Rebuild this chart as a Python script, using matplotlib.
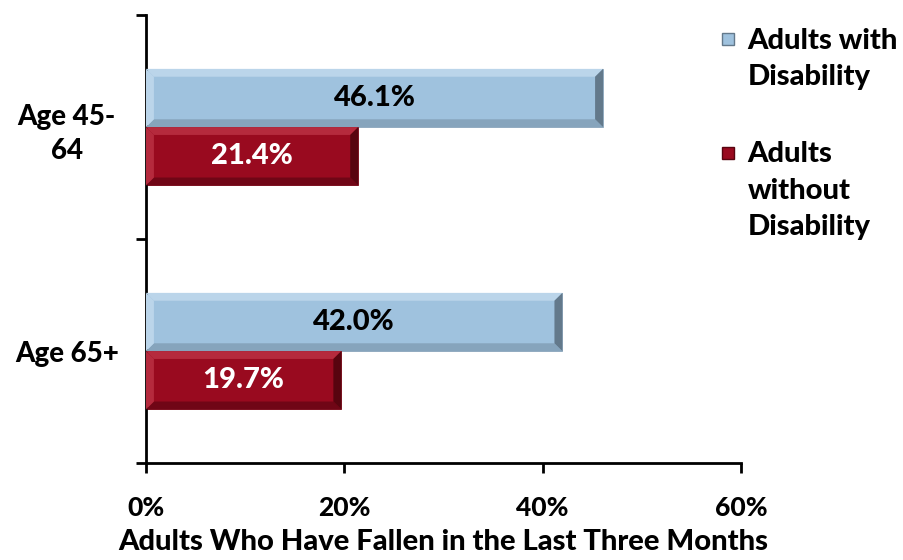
import numpy as np
import matplotlib.pyplot as plt
from matplotlib.patches import Polygon, Rectangle

plt.rcParams['font.family'] = ['Lato', 'DejaVu Sans']
plt.rcParams['font.weight'] = 'black'
plt.rcParams['axes.labelweight'] = 'black'

categories = ['Age 45-\n64', 'Age 65+']
with_disability = [46.1, 42.0]
without_disability = [21.4, 19.7]
series_names = ['Adults with\nDisability', 'Adults\nwithout\nDisability']
xticks = [0, 20, 40, 60]
xlabel = 'Adults Who Have Fallen in the Last Three Months'

blue = '#9FC2DE'
red = '#990A1F'


def bevel(ax, rect, light, dark, side):
    """fake the excel bevel look with 4 trapezoids"""
    x0, y0 = rect.get_x(), rect.get_y()
    x1, y1 = x0 + rect.get_width(), y0 + rect.get_height()
    bx, by = 0.8, 0.035
    top = [(x0, y0), (x1, y0), (x1 - bx, y0 + by), (x0 + bx, y0 + by)]
    bot = [(x0, y1), (x1, y1), (x1 - bx, y1 - by), (x0 + bx, y1 - by)]
    rgt = [(x1, y0), (x1, y1), (x1 - bx, y1 - by), (x1 - bx, y0 + by)]
    lft = [(x0, y0), (x0, y1), (x0 + bx, y1 - by), (x0 + bx, y0 + by)]
    for pts, c in [(top, light), (bot, dark), (rgt, side), (lft, light)]:
        ax.add_patch(Polygon(pts, closed=True, facecolor=c, edgecolor='none', zorder=3))


fig = plt.figure(figsize=(9.04, 5.6), dpi=100)
ax = fig.add_axes([0.1615, 0.173, 0.658, 0.800])

y = np.arange(len(categories))
h = 0.26
b1 = ax.barh(y - h / 2, with_disability, height=h, color=blue, edgecolor='#8AA5BA', lw=0.6, zorder=2)
b2 = ax.barh(y + h / 2, without_disability, height=h, color=red, edgecolor='#7A0716', lw=0.6, zorder=2)

for r in b1:
    bevel(ax, r, '#BBD5EA', '#86A4BC', '#63798B')
for r in b2:
    bevel(ax, r, '#B52A3D', '#700616', '#58040F')

for r, v in zip(b1, with_disability):
    ax.text(v / 2, r.get_y() + r.get_height() / 2, f'{v:.1f}%', ha='center', va='center',
            fontsize=21, color='black', zorder=4)
for r, v in zip(b2, without_disability):
    ax.text(v / 2, r.get_y() + r.get_height() / 2, f'{v:.1f}%', ha='center', va='center',
            fontsize=21, color='white', zorder=4)

ax.set_xlim(0, 60)
ax.set_ylim(1.5, -0.5)
ax.set_xticks(xticks)
ax.set_xticklabels([f'{t}%' for t in xticks], fontsize=19)
ax.tick_params(axis='x', direction='out', length=7, width=2, pad=17)

ax.set_yticks([-0.5, 0.5, 1.5])
ax.set_yticklabels([])
ax.set_yticks(y, minor=True)
ax.set_yticklabels(categories, minor=True, fontsize=20, ha='center', linespacing=1.4)
ax.tick_params(axis='y', which='major', direction='out', length=7, width=2)
ax.tick_params(axis='y', which='minor', length=0, pad=57)

for s in ['top', 'right']:
    ax.spines[s].set_visible(False)
for s in ['left', 'bottom']:
    ax.spines[s].set_linewidth(2)

ax.set_xlabel(xlabel, fontsize=21, labelpad=6)

# legend by hand so the square sits on the first text line
leg_items = [(blue, '#63798B', series_names[0], 0.930, 0.950),
             (red, '#58040F', series_names[1], 0.727, 0.748)]
for fc, ec, name, my, ty in leg_items:
    fig.patches.append(Rectangle((0.7985, my - 0.0105), 0.0135, 0.021, transform=fig.transFigure,
                                 facecolor=fc, edgecolor=ec, lw=1))
    fig.text(0.827, ty, name, fontsize=21, va='top', ha='left', linespacing=1.5)

fig.savefig('out.png', dpi=100)
